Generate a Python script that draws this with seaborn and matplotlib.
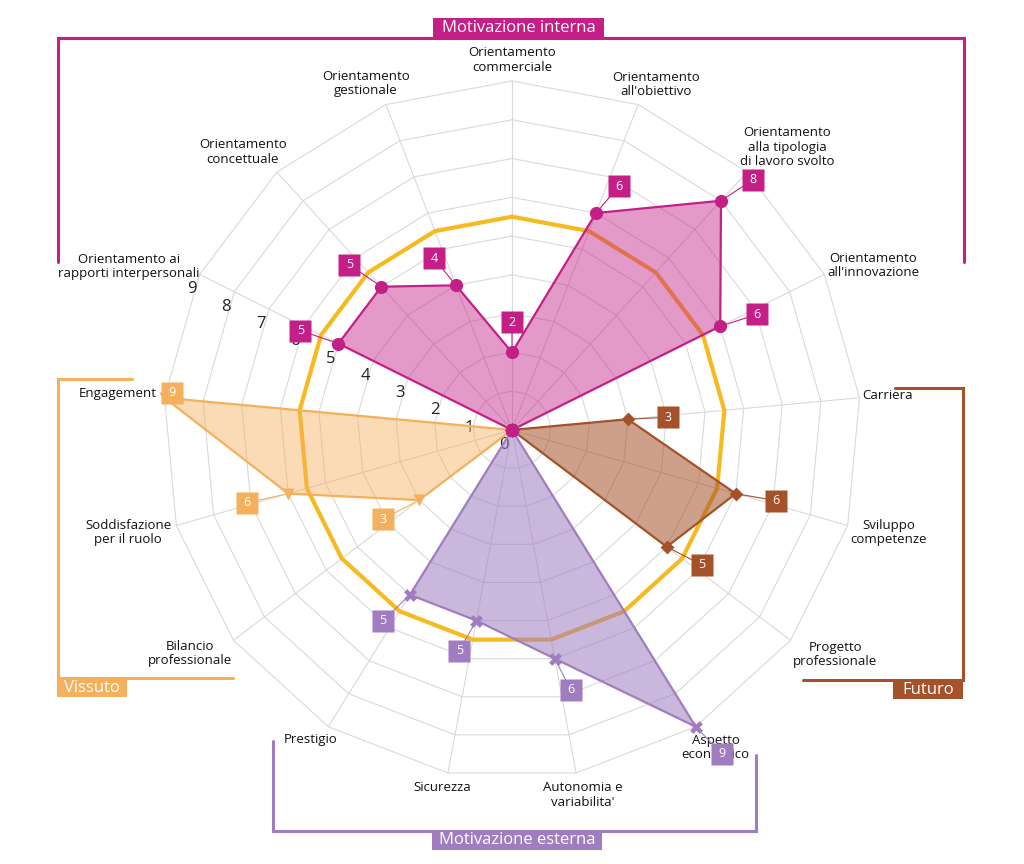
import numpy as np
import matplotlib
matplotlib.use("Agg")
import matplotlib.pyplot as plt
import matplotlib.transforms as mtransforms
from matplotlib.patches import Rectangle
import seaborn as sns

# Categories, clockwise from the top
categories = [
    "Orientamento\ncommerciale",
    "Orientamento\nall'obiettivo",
    "Orientamento\nalla tipologia\ndi lavoro svolto",
    "Orientamento\nall'innovazione",
    "Carriera",
    "Sviluppo\ncompetenze",
    "Progetto\nprofessionale",
    "Aspetto\neconomico",
    "Autonomia e\nvariabilita'",
    "Sicurezza",
    "Prestigio",
    "Bilancio\nprofessionale",
    "Soddisfazione\nper il ruolo",
    "Engagement",
    "Orientamento ai\nrapporti interpersonali",
    "Orientamento\nconcettuale",
    "Orientamento\ngestionale",
]

motivazione_interna = [2, 6, 8, 6, 0, 0, 0, 0, 0, 0, 0, 0, 0, 0, 5, 5, 4]
futuro = [0, 0, 0, 0, 3, 6, 5, 0, 0, 0, 0, 0, 0, 0, 0, 0, 0]
motivazione_esterna = [0, 0, 0, 0, 0, 0, 0, 9, 6, 5, 5, 0, 0, 0, 0, 0, 0]
vissuto = [0, 0, 0, 0, 0, 0, 0, 0, 0, 0, 0, 3, 6, 9, 0, 0, 0]
riferimento = [5.5, 5.5, 5.5, 5.5, 5.5, 5.5, 5.5, 5.5, 5.5, 5.5, 5.5, 5.5, 5.5, 5.5, 5.5, 5.5, 5.5]
tick_values = [0, 1, 2, 3, 4, 5, 6, 7, 8, 9]

# Colours
MAGENTA = "#C41F86"
BROWN = "#A5522B"
PURPLE = "#A07DC0"
ORANGE = "#F4B05C"
GOLD = "#F6B920"
GRID = "#D9D9D9"

# Pixel offsets (x right, y up) of the category labels from the spoke ends
cat_offsets = [(0, 21), (18, 20), (40, 25), (49, 9), (28, 2), (41, -7), (45, -14),
               (20, -21), (7, -22), (-6, -14), (-18, -13), (-44, -13), (-48, -7),
               (-47, 4), (-71, 8), (-34, 20), (-20, 21)]
# Pixel offsets of the value boxes from their markers
val_offsets = [(0, 30), (23, 27), (32, 21), (37, 12), (40, 2), (40, -7), (35, -18),
               (26, -27), (16, -31), (-17, -30), (-27, -26), (-36, -19), (-41, -9),
               (7, 5), (-38, 13), (-32, 22), (-22, 27)]

sns.set_theme(style="white")
plt.rcParams['font.family'] = ['Open Sans', 'DejaVu Sans']

fig = plt.figure(figsize=(10.24, 8.64), dpi=100)

# Overlay in pixel coordinates for the group brackets
overlay = fig.add_axes([0, 0, 1, 1])
overlay.set_xlim(0, 1024)
overlay.set_ylim(864, 0)
overlay.axis('off')

ax = fig.add_axes([0.1592, 0.0984, 0.6816, 0.8079], projection='polar')
ax.set_theta_offset(np.pi / 2)
ax.set_theta_direction(-1)
ax.set_ylim(0, 9)
ax.axis('off')

n = len(categories)
theta = np.linspace(0, 2 * np.pi, n, endpoint=False)
theta_closed = np.append(theta, 2 * np.pi)


def close(vals):
    return np.append(vals, vals[0])


# Polygon grid
for level in tick_values[1:]:
    ax.plot(theta_closed, [level] * (n + 1), color=GRID, lw=0.8, zorder=1, clip_on=False)
for t in theta:
    ax.plot([t, t], [0, tick_values[-1]], color=GRID, lw=0.8, zorder=1, clip_on=False)

# Scale numbers along the "rapporti interpersonali" spoke
for r in tick_values:
    ax.annotate(str(r), xy=(theta[14], r), xytext=(-8, -15), textcoords='offset pixels',
                ha='center', va='center', fontsize=12, color='#222222', zorder=2.5)

# Category labels (below the value boxes, as in the original)
for t, label, (dx, dy) in zip(theta, categories, cat_offsets):
    ax.annotate(label, xy=(t, tick_values[-1]), xytext=(dx, dy), textcoords='offset pixels',
                ha='center', va='center', fontsize=9.5, color='#111111',
                linespacing=1.15, annotation_clip=False, zorder=2.6)

# Reference line
sns.lineplot(x=theta_closed, y=close(riferimento), sort=False, estimator=None,
             color=GOLD, lw=3, ax=ax, zorder=2, clip_on=False)

series = [
    (vissuto, ORANGE, "v", 75, 0.45),
    (futuro, BROWN, "D", 50, 0.55),
    (motivazione_esterna, PURPLE, "X", 85, 0.55),
    (motivazione_interna, MAGENTA, "o", 90, 0.45),
]

for vals, color, marker, size, alpha in series:
    ax.fill(theta_closed, close(vals), color=color, alpha=alpha, lw=0, zorder=3)
    sns.lineplot(x=theta_closed, y=close(vals), sort=False, estimator=None,
                 color=color, lw=1.6, ax=ax, zorder=4, clip_on=False)
    sns.scatterplot(x=theta, y=vals, marker=marker, s=size, color=color,
                    linewidth=0, ax=ax, zorder=5, clip_on=False)
    for t, v, (dx, dy) in zip(theta, vals, val_offsets):
        if v == 0:
            continue
        ax.annotate("", xy=(t, v), xytext=(dx, dy), textcoords='offset pixels',
                    arrowprops=dict(arrowstyle='-', color=color, lw=0.8, shrinkA=0, shrinkB=3),
                    zorder=5, annotation_clip=False)
        trans = mtransforms.offset_copy(ax.transData, fig=fig, x=dx, y=dy, units='dots')
        ax.plot([t], [v], marker='s', ms=16, color=color, mec='none',
                transform=trans, zorder=6, clip_on=False)
        ax.text(t, v, str(v), transform=trans, ha='center', va='center',
                color='white', fontsize=9, zorder=7)

# Group brackets
groups = [
    ("Motivazione interna", MAGENTA, [(58, 262), (58, 38), (964, 38), (964, 262)], (433, 18, 171, 20)),
    ("Futuro", BROWN, [(895, 388), (963, 388), (963, 680), (803, 680)], (893, 680, 70, 19)),
    ("Vissuto", ORANGE, [(132, 379), (58, 379), (58, 678), (233, 678)], (57, 678, 70, 19)),
    ("Motivazione esterna", PURPLE, [(273, 741), (273, 831), (756, 831), (756, 755)], (432, 831, 170, 19)),
]
for name, color, pts, (bx, by, bw, bh) in groups:
    xs, ys = zip(*pts)
    overlay.plot(xs, ys, color=color, lw=2.2, solid_joinstyle='miter')
    overlay.add_patch(Rectangle((bx, by), bw, bh, facecolor=color, edgecolor='none'))
    overlay.text(bx + bw / 2, by + bh / 2, name, ha='center', va='center',
                 color='white', fontsize=12)

fig.savefig("out.png", dpi=100)
